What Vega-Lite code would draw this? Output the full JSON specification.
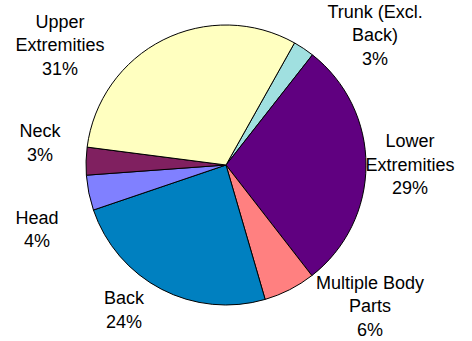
{
  "$schema": "https://vega.github.io/schema/vega-lite/v6.json",
  "width": 452,
  "height": 330,
  "autosize": "none",
  "padding": {"left": 0, "top": 0, "right": 20, "bottom": 11},
  "background": "white",
  "config": {"view": {"stroke": null}},
  "data": {
    "values": [
      {"part": "Trunk (Excl. Back)", "value": 2.45, "order": 1, "label": "Trunk (Excl.|Back)|3%"},
      {"part": "Lower Extremities", "value": 28.9, "order": 2, "label": "Lower|Extremities|29%"},
      {"part": "Multiple Body Parts", "value": 6.0, "order": 3, "label": "Multiple Body|Parts|6%"},
      {"part": "Back", "value": 24.3, "order": 4, "label": "Back|24%"},
      {"part": "Head", "value": 4.05, "order": 5, "label": "Head|4%"},
      {"part": "Neck", "value": 3.2, "order": 6, "label": "Neck|3%"},
      {"part": "Upper Extremities", "value": 31.1, "order": 7, "label": "Upper|Extremities|31%"}
    ]
  },
  "encoding": {
    "theta": {"field": "value", "type": "quantitative", "stack": true, "scale": {"range": [0.5114, 6.7946]}},
    "order": {"field": "order", "type": "quantitative"}
  },
  "layer": [
    {
      "mark": {"type": "arc", "outerRadius": 140, "stroke": "black", "strokeWidth": 1},
      "encoding": {
        "color": {
          "field": "part", "type": "nominal", "legend": null,
          "scale": {
            "domain": ["Trunk (Excl. Back)", "Lower Extremities", "Multiple Body Parts", "Back", "Head", "Neck", "Upper Extremities"],
            "range": ["#A0E0E0", "#600080", "#FF8080", "#0080C0", "#8080FF", "#802060", "#FFFFC0"]
          }
        }
      }
    },
    {
      "mark": {"type": "text", "radius": 192, "dx": 42.5, "dy": 7.7, "font": "Liberation Sans", "fontSize": 18, "lineBreak": "|", "lineHeight": 23.5, "align": "center", "baseline": "middle", "color": "black"},
      "encoding": {"text": {"condition": {"test": "datum.order === 1", "field": "label", "type": "nominal"}, "value": ""}}
    },
    {
      "mark": {"type": "text", "radius": 195, "dx": -11, "dy": -23, "font": "Liberation Sans", "fontSize": 18, "lineBreak": "|", "lineHeight": 23.5, "align": "center", "baseline": "middle", "color": "black"},
      "encoding": {"text": {"condition": {"test": "datum.order === 2", "field": "label", "type": "nominal"}, "value": ""}}
    },
    {
      "mark": {"type": "text", "radius": 192, "dx": 56.8, "dy": -52.1, "font": "Liberation Sans", "fontSize": 18, "lineBreak": "|", "lineHeight": 23.5, "align": "center", "baseline": "middle", "color": "black"},
      "encoding": {"text": {"condition": {"test": "datum.order === 3", "field": "label", "type": "nominal"}, "value": ""}}
    },
    {
      "mark": {"type": "text", "radius": 174, "dx": -21.7, "dy": -20.3, "font": "Liberation Sans", "fontSize": 18, "lineBreak": "|", "lineHeight": 23.5, "align": "center", "baseline": "middle", "color": "black"},
      "encoding": {"text": {"condition": {"test": "datum.order === 4", "field": "label", "type": "nominal"}, "value": ""}}
    },
    {
      "mark": {"type": "text", "radius": 195, "dx": 2.1, "dy": 15.1, "font": "Liberation Sans", "fontSize": 18, "lineBreak": "|", "lineHeight": 23.5, "align": "center", "baseline": "middle", "color": "black"},
      "encoding": {"text": {"condition": {"test": "datum.order === 5", "field": "label", "type": "nominal"}, "value": ""}}
    },
    {
      "mark": {"type": "text", "radius": 184, "dx": -2, "dy": -27.9, "font": "Liberation Sans", "fontSize": 18, "lineBreak": "|", "lineHeight": 23.5, "align": "center", "baseline": "middle", "color": "black"},
      "encoding": {"text": {"condition": {"test": "datum.order === 6", "field": "label", "type": "nominal"}, "value": ""}}
    },
    {
      "mark": {"type": "text", "radius": 181, "dx": -84.7, "dy": 19.7, "font": "Liberation Sans", "fontSize": 18, "lineBreak": "|", "lineHeight": 23.5, "align": "center", "baseline": "middle", "color": "black"},
      "encoding": {"text": {"condition": {"test": "datum.order === 7", "field": "label", "type": "nominal"}, "value": ""}}
    }
  ]
}
